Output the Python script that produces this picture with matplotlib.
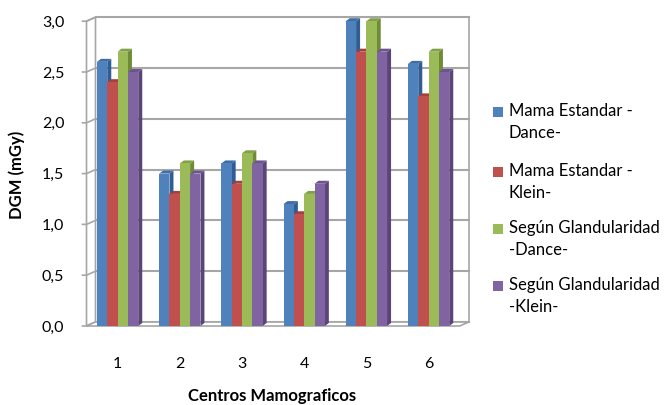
import matplotlib.pyplot as plt
import matplotlib.transforms as mtransforms
from matplotlib.patches import Polygon, Rectangle
import numpy as np

plt.rcParams['font.family'] = ['Lato', 'DejaVu Sans']

centros = ['1', '2', '3', '4', '5', '6']
series = ['Mama Estandar -\nDance-', 'Mama Estandar -\nKlein-',
          'Según Glandularidad\n-Dance-', 'Según Glandularidad\n-Klein-']
mama_dance = [2.6, 1.5, 1.6, 1.2, 3.0, 2.58]
mama_klein = [2.4, 1.3, 1.4, 1.1, 2.7, 2.26]
glan_dance = [2.7, 1.6, 1.7, 1.3, 3.0, 2.7]
glan_klein = [2.5, 1.5, 1.6, 1.4, 2.7, 2.5]
valores = [mama_dance, mama_klein, glan_dance, glan_klein]
yticks = [0.0, 0.5, 1.0, 1.5, 2.0, 2.5, 3.0]

frente = ['#4F81BD', '#C0504D', '#9BBB59', '#8064A2']
lado = ['#2F5E94', '#8E3431', '#6E8B36', '#5A4479']
tapa = ['#3E6EA8', '#A5403D', '#82A046', '#6C5490']

W, H = 667, 405
fig = plt.figure(figsize=(W / 100, H / 100), dpi=100)
ax_l, ax_b, ax_w, ax_h = 86.5, 79, 373.2, 304.8
ax = fig.add_axes([ax_l / W, ax_b / H, ax_w / W, ax_h / H])
ax.set_xlim(0.5, 6.5)
ax.set_ylim(0, 3)
for s in ax.spines.values():
    s.set_visible(False)

# pixel -> data
px = 6.0 / ax_w
py = 3.0 / ax_h
gris = '#A6A6A6'

# back wall (offset)
back = ax.transData + mtransforms.ScaledTranslation(9 / 100, 4 / 100, fig.dpi_scale_trans)
for v in yticks:
    ax.plot([0.5, 6.5], [v, v], color=gris, lw=1.5, transform=back, clip_on=False, zorder=1)
ax.plot([6.5, 6.5], [0, 3], color=gris, lw=1.2, transform=back, clip_on=False, zorder=1)
# left wall
bx, by = 9 * px, 4 * py
ax.add_patch(Polygon([(0.5, 0), (0.5, 3), (0.5 + bx, 3 + by), (0.5 + bx, by)],
                     closed=True, fc='white', ec=gris, lw=1.2, clip_on=False, zorder=1))
for v in yticks:
    ax.plot([0.5 - 4 * px, 0.5, 0.5 + bx], [v, v, v + by], color=gris, lw=1.2,
            clip_on=False, zorder=1)
# floor
ax.add_patch(Polygon([(0.5, 0), (6.5, 0), (6.5 + bx, by), (0.5 + bx, by)],
                     closed=True, fc='white', ec=gris, lw=1.2, clip_on=False, zorder=1))

# bars
x = np.arange(1, 7)
w = 0.166
dx, dy = 4 * px, 3 * py
for g in range(6):
    for k in range(4):
        x0 = x[g] - 2 * w + k * w
        h = valores[k][g]
        ax.add_patch(Polygon([(x0 + w, 0), (x0 + w + dx, dy), (x0 + w + dx, h + dy), (x0 + w, h)],
                             closed=True, fc=lado[k], ec='none', clip_on=False, zorder=2))
        ax.add_patch(Polygon([(x0, h), (x0 + dx, h + dy), (x0 + w + dx, h + dy), (x0 + w, h)],
                             closed=True, fc=tapa[k], ec='none', clip_on=False, zorder=2))
        ax.add_patch(Rectangle((x0, 0), w, h, fc=frente[k], ec='none', clip_on=False, zorder=2))

ax.set_xticks(x)
ax.set_xticklabels(centros, fontsize=11.5)
ax.set_yticks(yticks)
ax.set_yticklabels([f'{v:.1f}'.replace('.', ',') for v in yticks], fontsize=11.5)
ax.tick_params(axis='x', length=0, pad=22)
ax.tick_params(axis='y', length=0, pad=16)

fig.text(17 / W, 1 - 175 / H, 'DGM (mGy)', rotation=90, ha='center', va='center',
         fontsize=12, fontweight='bold')
fig.text(272 / W, 1 - 396 / H, 'Centros Mamograficos', ha='center', va='center',
         fontsize=12, fontweight='bold')

# legend
ly = [112, 172, 229, 286]
for k in range(4):
    fig.patches.append(Rectangle((493 / W, 1 - (ly[k] + 5) / H), 10 / W, 10 / H,
                                 fc=frente[k], ec='none', transform=fig.transFigure))
    fig.text(509 / W, 1 - (ly[k] - 9) / H, series[k], ha='left', va='top',
             fontsize=12, linespacing=1.45)

fig.savefig('out.png', dpi=100)
